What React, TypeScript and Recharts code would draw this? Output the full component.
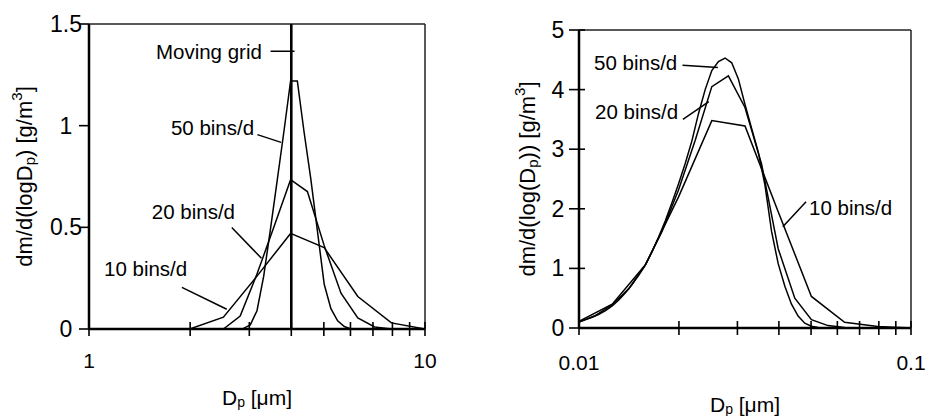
import React from 'react'
import { LineChart, Line, XAxis, YAxis, ReferenceLine, ReferenceDot } from 'recharts'

const FONT = '"Liberation Sans", Arial, Helvetica, sans-serif'
const INK = '#000'

// left panel: 1-10 um, three fixed-bin resolutions against the moving grid
const left10D = [1, 1.259, 1.585, 1.995, 2.512, 3.162, 3.981, 5.012, 6.31, 7.943, 10]
const left10M = [0, 0, 0, 0, 0.058, 0.26, 0.47, 0.4, 0.16, 0.03, 0]
const left20D = [1, 1.995, 2.239, 2.512, 2.818, 3.162, 3.548, 3.981, 4.467, 5.012, 5.623, 6.31, 7.079, 7.943, 10]
const left20M = [0, 0, 0, 0, 0.064, 0.27, 0.5, 0.734, 0.676, 0.41, 0.176, 0.055, 0.01, 0, 0]
const left50D = [1, 2.754, 2.884, 3.02, 3.162, 3.311, 3.467, 3.631, 3.802, 3.981, 4.169, 4.365, 4.571, 4.786, 5.012, 5.248, 5.495, 5.754, 6.026, 10]
const left50M = [0, 0, 0.003, 0.02, 0.09, 0.26, 0.49, 0.73, 0.97, 1.22, 1.22, 0.97, 0.74, 0.48, 0.22, 0.1, 0.04, 0.012, 0, 0]
const movingGridD = 4
const leftXTicks = [1, 2, 3, 4, 5, 6, 7, 8, 9, 10]
const leftXLabels = [1, 10]
const leftYTicks = [0, 0.5, 1, 1.5]

// right panel: 0.01-0.1 um
const right10D = [0.01, 0.01259, 0.01585, 0.01995, 0.02512, 0.03162, 0.03981, 0.05012, 0.0631, 0.07943, 0.1]
const right10M = [0.11, 0.4, 1.06, 2.2, 3.48, 3.39, 1.95, 0.53, 0.095, 0.025, 0]
const right20D = [0.01, 0.01122, 0.01259, 0.01413, 0.01585, 0.01778, 0.01995, 0.02239, 0.02512, 0.02818, 0.03162, 0.03548, 0.03981, 0.04467, 0.05012, 0.05623, 0.0631, 0.07079, 0.1]
const right20M = [0.1, 0.21, 0.39, 0.66, 1.06, 1.62, 2.32, 3.15, 4.05, 4.23, 3.7, 2.75, 1.33, 0.5, 0.14, 0.04, 0.01, 0, 0]
const right50D = [
  0.01, 0.01047, 0.01096, 0.01148, 0.01202, 0.01259, 0.01318, 0.0138, 0.01445, 0.01514,
  0.01585, 0.0166, 0.01738, 0.0182, 0.01905, 0.01995, 0.02089, 0.02188, 0.02291, 0.02399,
  0.02512, 0.0263, 0.02754, 0.02884, 0.0302, 0.03162, 0.03311, 0.03467, 0.03631, 0.03802,
  0.03981, 0.04169, 0.04365, 0.04571, 0.04786, 0.05012, 0.05248, 0.05495, 0.1,
]
const right50M = [
  0.1, 0.14, 0.18, 0.23, 0.29, 0.37, 0.47, 0.59, 0.73, 0.89,
  1.06, 1.28, 1.53, 1.8, 2.1, 2.42, 2.76, 3.14, 3.6, 4.0,
  4.32, 4.47, 4.53, 4.45, 4.18, 3.75, 3.35, 2.95, 2.4, 1.62,
  1.08, 0.7, 0.4, 0.2, 0.08, 0.03, 0.01, 0, 0,
]
const rightXTicks = [0.01, 0.02, 0.03, 0.04, 0.05, 0.06, 0.07, 0.08, 0.09, 0.1]
const rightXLabels = [0.01, 0.1]
const rightYTicks = [0, 1, 2, 3, 4, 5]

const pts = (d: number[], m: number[]) => d.map((x, i) => ({ d: x, m: m[i] }))

// callouts, in data units: text anchor point and leader segment
const leftNotes = [
  { text: 'Moving grid', at: [3.27, 1.366], from: [3.47, 1.366], to: [4.09, 1.366], anchor: 'end' },
  { text: '50 bins/d', at: [3.1, 0.99], from: [3.17, 0.956], to: [3.73, 0.918], anchor: 'end' },
  { text: '20 bins/d', at: [2.72, 0.576], from: [2.66, 0.499], to: [3.26, 0.348], anchor: 'end' },
  { text: '10 bins/d', at: [1.96, 0.3], from: [1.89, 0.205], to: [2.57, 0.097], anchor: 'end' },
]
const rightNotes = [
  { text: '50 bins/d', at: [0.01977, 4.46], from: [0.0205, 4.41], to: [0.0262, 4.37], anchor: 'end' },
  { text: '20 bins/d', at: [0.0199, 3.63], from: [0.02056, 3.5], to: [0.0246, 3.8], anchor: 'end' },
  { text: '10 bins/d', at: [0.0493, 2.03], from: [0.0483, 2.12], to: [0.0411, 1.7], anchor: 'start' },
]

const XTick = ({ x, y, payload, labels, labelDy }: any) => (
  <g>
    <line x1={x} x2={x} y1={y - 7} y2={y + 7} stroke={INK} strokeWidth={1.6} />
    {labels.includes(payload.value) && (
      <text x={x} y={y + labelDy} textAnchor="middle" dominantBaseline="central" fontFamily={FONT} fontSize={21} fill={INK}>
        {String(payload.value)}
      </text>
    )}
  </g>
)

const YTick = ({ x, y, payload, inside, labelDx }: any) => (
  <g>
    <line x1={x - 10} x2={x + inside} y1={y} y2={y} stroke={INK} strokeWidth={1.6} />
    <text x={x - labelDx} y={y} textAnchor="middle" dominantBaseline="central" fontFamily={FONT} fontSize={23} fill={INK}>
      {String(payload.value)}
    </text>
  </g>
)

function Panel(props: any) {
  const {
    width, height, margin, yAxisWidth, xAxisHeight, xDomain, xTicks, xLabels, yDomain, yTicks,
    series, notes, grid, yTitle, yTitleX, xTitleDy, xLabelDy, yInside, yLabelDx,
  } = props
  return (
    <LineChart width={width} height={height} margin={margin}>
      <XAxis
        dataKey="d"
        type="number"
        scale="log"
        domain={xDomain}
        allowDataOverflow
        ticks={xTicks}
        interval={0}
        tickSize={0}
        tickMargin={0}
        tickLine={false}
        axisLine={{ stroke: INK, strokeWidth: 2.5 }}
        height={xAxisHeight}
        tick={(p: any) => <XTick {...p} labels={xLabels} labelDy={xLabelDy} />}
        label={(p: any) => {
          const vb = p.viewBox
          return (
            <text x={vb.x + vb.width / 2} y={vb.y + xTitleDy} textAnchor="middle" dominantBaseline="central" fontFamily={FONT} fontSize={21} fill={INK}>
              <tspan>D</tspan>
              <tspan fontSize={14} dy={5}>p</tspan>
              <tspan dy={-5}> [μm]</tspan>
            </text>
          )
        }}
      />
      <YAxis
        type="number"
        domain={yDomain}
        ticks={yTicks}
        interval={0}
        width={yAxisWidth}
        tickSize={0}
        tickMargin={0}
        tickLine={false}
        axisLine={{ stroke: INK, strokeWidth: 2.5 }}
        tick={(p: any) => <YTick {...p} inside={yInside} labelDx={yLabelDx} />}
        label={(p: any) => {
          const vb = p.viewBox
          const cx = vb.x + yTitleX
          const cy = vb.y + vb.height / 2
          return (
            <text x={cx} y={cy} transform={`rotate(-90 ${cx} ${cy})`} textAnchor="middle" dominantBaseline="central" fontFamily={FONT} fontSize={22} fill={INK}>
              {yTitle}
            </text>
          )
        }}
      />
      <ReferenceLine y={yDomain[1]} stroke="#222" strokeWidth={1.5} />
      <ReferenceLine x={xDomain[1]} stroke="#222" strokeWidth={1.5} />
      {grid && <ReferenceLine x={grid} stroke={INK} strokeWidth={2.6} />}
      {series.map((s: any, i: number) => (
        <Line key={i} data={s} dataKey="m" type="linear" stroke={INK} strokeWidth={1.5} dot={false} isAnimationActive={false} />
      ))}
      {notes.map((n: any, i: number) => (
        <ReferenceLine key={'l' + i} segment={[{ x: n.from[0], y: n.from[1] }, { x: n.to[0], y: n.to[1] }]} stroke={INK} strokeWidth={1.5} />
      ))}
      {notes.map((n: any, i: number) => (
        <ReferenceDot
          key={'t' + i}
          x={n.at[0]}
          y={n.at[1]}
          r={0}
          shape={(p: any) => (
            <text x={p.cx} y={p.cy} textAnchor={n.anchor} dominantBaseline="central" fontFamily={FONT} fontSize={20.5} fill={INK}>
              {n.text}
            </text>
          )}
        />
      ))}
    </LineChart>
  )
}

export default function App() {
  return (
    <div style={{ position: 'absolute', left: 0, top: 0, width: 926, height: 416, background: '#fff' }}>
      <div style={{ position: 'absolute', left: 0, top: 0 }}>
        <Panel
          width={463}
          height={416}
          margin={{ top: 24, right: 38, bottom: 0, left: 0 }}
          xAxisHeight={87}
          yAxisWidth={89}
          xDomain={[1, 10]}
          xTicks={leftXTicks}
          xLabels={leftXLabels}
          yDomain={[0, 1.5]}
          yTicks={leftYTicks}
          series={[pts(left10D, left10M), pts(left20D, left20M), pts(left50D, left50M)]}
          notes={leftNotes}
          grid={movingGridD}
          xLabelDy={31}
          xTitleDy={68}
          yInside={0}
          yLabelDx={23}
          yTitleX={24}
          yTitle={[
            <tspan key="a">dm/d(logD</tspan>,
            <tspan key="b" fontSize={15} dy={5}>p</tspan>,
            <tspan key="c" dy={-5}>) [g/m</tspan>,
            <tspan key="d" fontSize={15} dy={-8}>3</tspan>,
            <tspan key="e" dy={8}>]</tspan>,
          ]}
        />
      </div>
      <div style={{ position: 'absolute', left: 463, top: 0 }}>
        <Panel
          width={463}
          height={416}
          margin={{ top: 30, right: 15, bottom: 0, left: 0 }}
          xAxisHeight={88}
          yAxisWidth={116}
          xDomain={[0.01, 0.1]}
          xTicks={rightXTicks}
          xLabels={rightXLabels}
          yDomain={[0, 5]}
          yTicks={rightYTicks}
          series={[pts(right10D, right10M), pts(right20D, right20M), pts(right50D, right50M)]}
          notes={rightNotes}
          grid={null}
          xLabelDy={34}
          xTitleDy={76}
          yInside={6}
          yLabelDx={21}
          yTitleX={64}
          yTitle={[
            <tspan key="a">dm/d(log(D</tspan>,
            <tspan key="b" fontSize={15} dy={5}>p</tspan>,
            <tspan key="c" dy={-5}>)) [g/m</tspan>,
            <tspan key="d" fontSize={15} dy={-8}>3</tspan>,
            <tspan key="e" dy={8}>]</tspan>,
          ]}
        />
      </div>
    </div>
  )
}
